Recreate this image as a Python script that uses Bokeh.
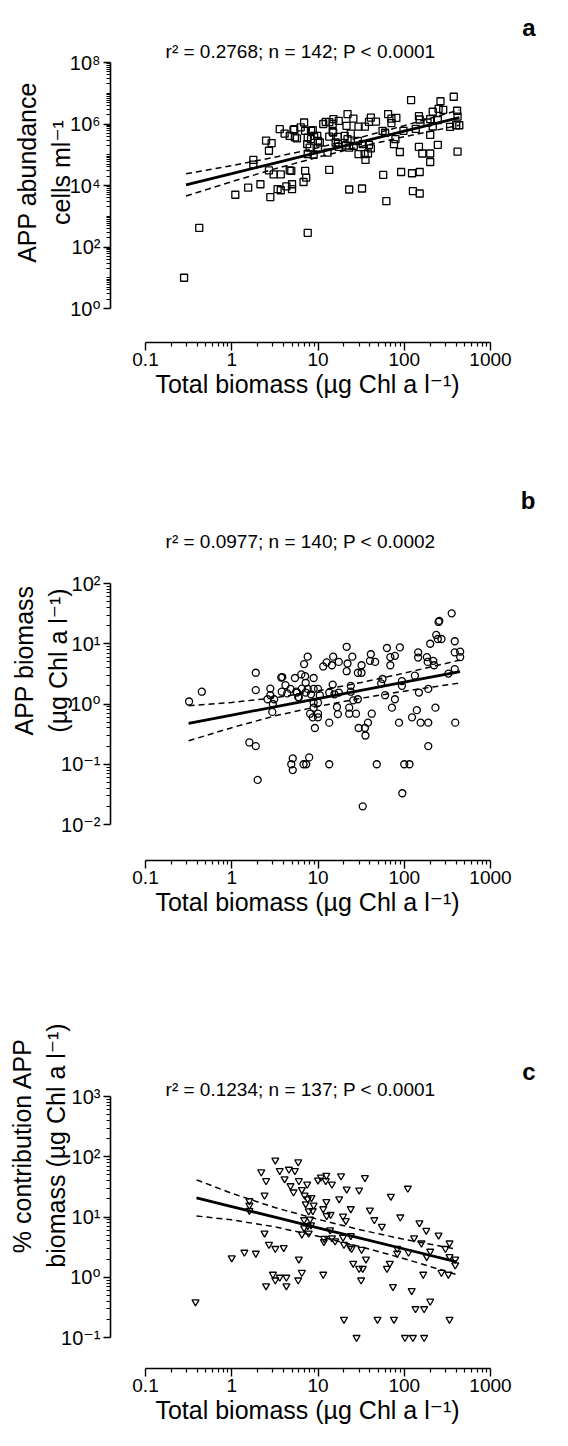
import math
from bokeh.plotting import figure
from bokeh.models import Range1d, FixedTicker, CustomJSTickFormatter, Label
from bokeh.layouts import column, row
from bokeh.embed import file_html
from bokeh.resources import INLINE

FONT = "Liberation Sans, Arial, DejaVu Sans"

# ---------------- data ----------------
# Panel a: APP abundance (cells ml-1) vs total biomass
A_X = [0.28, 0.42, 1.1, 1.55, 2.15, 1.78, 1.78, 2.8, 2.7, 2.5, 2.9, 2.7, 3.4, 3.7, 3.06, 3.7,
       4.3, 5.0, 5.0, 4.7, 3.6, 4.1, 4.7, 5.2, 5.7, 6.3, 6.9, 5.3, 7.1, 8.7, 7.6, 5.4, 9.8, 10.0,
       8.0, 10.0, 7.6, 8.9, 7.1, 7.3, 6.8, 4.9, 7.6, 8.3, 9.0, 11.5, 12.3, 13.5, 15.1, 17.4, 13.5,
       12.9, 21.4, 22.0, 23.0, 14.8, 14.8, 17.0, 13.5, 20.4, 26.0, 17.4, 25.7, 21.0, 24.0, 29.0,
       22.0, 33.0, 39.0, 41.0, 29.5, 34.7, 38.0, 35.5, 32.4, 35.0, 29.5, 41.0, 47.0, 39.0, 56.0,
       60.0, 65.0, 71.0, 81.0, 71.0, 79.0, 76.0, 89.0, 98.0, 120.0, 148.0, 151.0, 136.0, 200.0,
       186.0, 245.0, 214.0, 250.0, 283.0, 263.0, 375.0, 410.0, 415.0, 435.0, 340.0, 400.0, 214.0,
       200.0, 148.0, 245.0, 162.0, 200.0, 200.0, 415.0, 57.0, 92.0, 123.0, 151.0, 62.0, 126.0,
       151.0, 15.0, 16.0, 17.0, 23.0, 7.5, 8.3, 10.5]
A_Y = [10, 420, 5000, 8500, 11000, 68000, 48000, 4200, 31000, 290000, 240000, 135000, 7600, 7000,
       23000, 23000, 9300, 11000, 7600, 31000, 680000, 490000, 410000, 640000, 340000, 780000,
       1120000, 680000, 600000, 630000, 360000, 370000, 410000, 280000, 170000, 170000, 105000,
       100000, 30000, 18000, 13000, 30000, 290, 320000, 410000, 1000000, 1170000, 1150000,
       1450000, 1260000, 32000, 117000, 870000, 2100000, 7400, 1000000, 560000, 380000, 390000,
       410000, 195000, 180000, 1500000, 200000, 490000, 280000, 320000, 220000, 210000, 160000,
       105000, 105000, 110000, 68000, 8000, 820000, 820000, 1620000, 1200000, 1170000, 600000,
       520000, 2100000, 1500000, 1580000, 1070000, 320000, 220000, 123000, 600000, 6000000,
       1800000, 1400000, 690000, 1450000, 1120000, 1350000, 2500000, 3100000, 2900000, 5500000,
       7700000, 2700000, 1740000, 910000, 810000, 910000, 830000, 440000, 180000, 210000, 110000,
       110000, 58000, 126000, 22000, 27500, 25000, 27500, 3100, 6600, 5500, 525000, 250000,
       225000, 170000, 220000, 600000, 250000]

# Panel b: APP biomass (ug Chl a l-1) vs total biomass
B_X = [0.32, 0.45, 1.9, 1.9, 2.8, 2.8, 2.6, 3.1, 3.0, 2.95, 3.75, 3.85, 4.2, 4.8, 4.4, 3.8, 5.4,
       5.6, 5.9, 1.6, 1.9, 4.9, 5.1, 5.1, 6.8, 7.3, 7.9, 13.5, 355, 250, 255, 235, 270, 245, 200,
       385, 385, 445, 445, 385, 325, 390, 190, 230, 190, 155, 123, 140, 87, 148, 190, 133, 183,
       187, 217, 222, 145, 145, 94, 94, 89, 78, 69, 69, 63, 78, 72, 60, 56, 54, 41, 40, 46, 32,
       32, 29, 21.5, 25, 22, 21.5, 17.4, 15, 14.5, 12.6, 11.5, 7.6, 6.9, 6.4, 7.1, 8.9, 7.2, 6.5,
       7.6, 8.9, 10, 5.7, 7.2, 8.3, 10.5, 6.0, 8.9, 10, 8.9, 8.1, 10, 8.7, 10, 9.2, 13.5, 14.8,
       13.5, 15.5, 17.4, 16.6, 17, 23, 23, 27.6, 24, 24, 25.6, 29, 42, 38, 35, 29.6, 35.5, 2.0,
       33, 48, 95, 100, 115]
B_Y = [1.1, 1.6, 3.3, 1.7, 1.8, 1.4, 1.2, 1.2, 1.0, 0.74, 2.75, 2.8, 2.05, 1.78, 1.5, 1.6, 2.7,
       1.6, 1.3, 0.23, 0.2, 0.1, 0.125, 0.08, 0.1, 0.1, 0.13, 0.1, 32, 23, 24, 14, 12, 12, 10,
       11, 7.2, 7.4, 6.0, 3.8, 3.2, 0.49, 0.2, 0.87, 0.49, 0.49, 0.6, 0.79, 0.49, 1.55, 1.78,
       2.95, 6.0, 5.0, 5.2, 4.4, 7.2, 5.9, 2.4, 2.0, 8.7, 6.3, 6.0, 4.4, 8.5, 1.2, 0.87, 1.4,
       2.6, 2.2, 6.7, 5.2, 5.0, 4.4, 3.3, 3.3, 8.9, 6.1, 4.7, 3.5, 5.0, 6.1, 4.4, 4.9, 4.2, 6.1,
       4.6, 3.1, 2.9, 2.7, 2.25, 1.8, 1.78, 1.78, 1.78, 1.55, 1.55, 1.45, 1.4, 1.3, 1.05, 1.05,
       0.87, 0.69, 0.69, 0.6, 0.6, 0.4, 0.49, 2.1, 1.55, 1.45, 1.55, 0.89, 0.68, 0.87, 0.69,
       0.69, 2.0, 1.6, 1.15, 1.2, 0.69, 0.49, 0.4, 0.4, 0.3, 0.055, 0.02, 0.1, 0.033, 0.1, 0.1]

# Panel c: % contribution APP biomass vs total biomass
C_X = [0.38, 1.0, 1.4, 1.9, 2.4, 2.7, 3.2, 4.0, 3.0, 3.2, 3.6, 4.3, 4.3, 2.5, 5.9, 6.0, 6.5,
       3.2, 2.2, 2.5, 2.4, 3.6, 4.1, 4.6, 5.4, 5.9, 4.8, 5.2, 6.0, 7.5, 6.5, 7.0, 8.4, 7.6, 7.2,
       8.9, 8.7, 7.8, 10, 10.8, 12.5, 12.3, 14.5, 18.5, 21.5, 17.6, 12.5, 11.5, 12.6, 14, 24,
       19.5, 21, 13.8, 11.8, 14.5, 19.5, 24, 23.5, 6.9, 6.9, 7.6, 8.3, 8.1, 6.5, 7.8, 1.6, 1.6,
       1.6, 11.5, 11.7, 15.8, 20, 20, 24.5, 25.6, 28, 30, 31.6, 33, 32, 36, 49, 63, 68, 74, 76,
       83, 83, 112, 122, 102, 126, 135, 170, 170, 166, 158, 182, 200, 200, 270, 335, 325, 335,
       335, 390, 390, 30, 35, 40, 45, 55, 70, 90, 110, 130, 150, 180, 250, 300]
C_Y = [0.39, 2.1, 2.6, 2.5, 5.4, 3.5, 3.0, 3.1, 1.12, 0.9, 1.0, 1.0, 0.72, 0.72, 0.9, 2.0, 1.2,
       88, 56, 40, 23, 59, 43, 62, 59, 82, 33, 26, 40, 35, 28.5, 23, 21, 20, 16.5, 15.7, 12.7,
       12.6, 41, 46, 49, 40, 35, 48, 29, 20, 18, 13.7, 10.5, 11, 13.7, 10.3, 8.7, 6.1, 4.4, 4.5,
       4.6, 4.9, 3.2, 9.0, 6.6, 7.2, 7.4, 9.2, 5.2, 5.4, 18.6, 15.7, 12.9, 1.12, 3.9, 4.0, 3.5,
       0.2, 3.0, 1.7, 0.1, 1.4, 0.9, 1.4, 2.9, 2.0, 0.2, 1.4, 1.7, 0.7, 0.2, 3.0, 2.5, 2.6, 0.6,
       0.1, 0.1, 0.3, 0.1, 0.3, 1.12, 3.7, 2.2, 2.7, 0.4, 1.2, 3.7, 1.12, 2.2, 0.2, 2.0, 1.6,
       28, 45, 13, 9, 7, 22, 10, 30, 4.5, 8, 6, 5, 3]

# regression lines and 95% confidence bands
A_FIT_X = [0.295, 1, 3.16, 10, 31.6, 100, 436]
A_FIT_Y = [10470, 24320, 53830, 119100, 263600, 583400, 1614000]
A_FIT_HI = [23990, 44260, 83370, 170200, 372400, 883100, 2871000]
A_FIT_LO = [4571, 13370, 34750, 83370, 186600, 385500, 907800]

B_FIT_X = [0.316, 1, 3.16, 10, 31.6, 100, 443]
B_FIT_Y = [0.4786, 0.6554, 0.8974, 1.229, 1.683, 2.304, 3.458]
B_FIT_HI = [0.9333, 1.063, 1.268, 1.658, 2.270, 3.254, 5.356]
B_FIT_LO = [0.2455, 0.4043, 0.6353, 0.9110, 1.247, 1.631, 2.233]

C_FIT_X = [0.39, 1, 3.16, 10, 31.6, 100, 395]
C_FIT_Y = [20.75, 14.89, 9.924, 6.617, 4.413, 2.942, 1.815]
C_FIT_HI = [41.4, 24.71, 14.35, 9.135, 6.092, 4.253, 2.944]
C_FIT_LO = [10.4, 8.97, 6.866, 4.795, 3.197, 2.035, 1.119]

ANNOT = ["r\u00b2 = 0.2768; n = 142; P < 0.0001",
         "r\u00b2 = 0.0977; n = 140; P < 0.0002",
         "r\u00b2 = 0.1234; n = 137; P < 0.0001"]
LETTERS = ["a", "b", "c"]
Y_TITLES = ["APP abundance\ncells ml\u207b\u00b9",
            "APP biomass\n(\u00b5g Chl a l\u207b\u00b9)",
            "% contribution APP\nbiomass (\u00b5g Chl a l\u207b\u00b9)"]
X_TITLE = "Total biomass (\u00b5g Chl a l\u207b\u00b9)"

X_MAJOR = [0.1, 1, 10, 100, 1000]

# ---------------- layout (page pixels) ----------------
W = 514                     # main figure width
WL = 38                     # letter strip width
FRAME_L, FRAME_R = 110, 504            # canvas px (page 118 / 512)
X_TICK_PX = (153 - 8, 498 - 8)         # canvas px of 0.1 and 1000
PPD_X = (X_TICK_PX[1] - X_TICK_PX[0]) / 4.0

# fig_top, fig_h, frame_top, frame_bot, top tick page y, bottom tick page y, top dec, bottom dec
GEOM = [
    (8, 457, 10, 350, 70, 316, 8, 0),
    (465, 465, 468, 868, 591, 832, 2, -2),
    (930, 508, 930, 1376, 1104, 1345, 3, -1),
]
LETTER_POS = [(543, 42), (543, 511), (543, 1100)]
ANNOT_POS = [(308, 59), (308, 549), (308, 1097)]
Y_STANDOFF = [-8, -14, -12]

SUP = {"-": "\u207b", "0": "\u2070", "1": "\u00b9", "2": "\u00b2", "3": "\u00b3",
       "4": "\u2074", "5": "\u2075", "6": "\u2076", "7": "\u2077", "8": "\u2078", "9": "\u2079"}
Y_FMT_CODE = """
const m = %s;
const e = Math.round(Math.log10(tick));
return "10" + String(e).split("").map(c => m[c]).join("");
""" % ("{" + ", ".join('"%s": "%s"' % (k, v) for k, v in SUP.items()) + "}")
X_FMT_CODE = """
const e = Math.round(Math.log10(tick));
return e < 0 ? "0." + "0".repeat(-e - 1) + "1" : "1" + "0".repeat(e);
"""


def minor_ticks(d_lo, d_hi):
    out = []
    for d in range(d_lo, d_hi):
        for k in range(2, 10):
            out.append(k * 10.0 ** d)
    return out


def make_panel(i, xs, ys, marker, fx, fy, fhi, flo):
    fig_top, fig_h, f_top, f_bot, t_top, t_bot, d_top, d_bot = GEOM[i]
    ppd_y = (t_bot - t_top) / float(d_top - d_bot)
    y0 = 10 ** (d_bot - (f_bot - t_bot) / ppd_y)
    y1 = 10 ** (d_top + (t_top - f_top) / ppd_y)
    x0 = 10 ** (-1 - (X_TICK_PX[0] - FRAME_L) / PPD_X)
    x1 = 10 ** (3 + (FRAME_R - X_TICK_PX[1]) / PPD_X)

    p = figure(width=W, height=fig_h, x_axis_type="log", y_axis_type="log",
               x_range=Range1d(x0, x1), y_range=Range1d(y0, y1),
               output_backend="svg", toolbar_location=None, title=None,
               min_border_left=FRAME_L, min_border_right=W - FRAME_R,
               min_border_top=f_top - fig_top, min_border_bottom=fig_top + fig_h - f_bot)
    p.outline_line_color = None
    p.xgrid.visible = False
    p.ygrid.visible = False
    p.background_fill_color = "white"
    p.border_fill_color = "white"

    def px2x(page_x):
        return 10 ** (-1 + (page_x - 8 - X_TICK_PX[0]) / PPD_X)

    def py2y(page_y):
        return 10 ** (d_bot + (t_bot - page_y) / ppd_y)

    # x axis
    xa = p.xaxis[0]
    xa.bounds = (0.1, 1000)
    xa.ticker = FixedTicker(ticks=X_MAJOR, minor_ticks=minor_ticks(-1, 3))
    xa.formatter = CustomJSTickFormatter(code=X_FMT_CODE)
    xa.axis_label = X_TITLE
    # y axis
    ya = p.yaxis[0]
    ya.bounds = (10.0 ** d_bot, 10.0 ** d_top)
    if d_top - d_bot > 4:
        majors = [10.0 ** d for d in range(d_bot, d_top + 1, 2)]
        minors = minor_ticks(d_bot, d_top) + [10.0 ** d for d in range(d_bot + 1, d_top, 2)]
    else:
        majors = [10.0 ** d for d in range(d_bot, d_top + 1)]
        minors = minor_ticks(d_bot, d_top)
    ya.ticker = FixedTicker(ticks=majors, minor_ticks=minors)
    ya.formatter = CustomJSTickFormatter(code=Y_FMT_CODE)
    ya.axis_label = Y_TITLES[i]

    for ax in (xa, ya):
        ax.axis_line_color = "black"
        ax.axis_line_width = 1.6
        ax.major_tick_line_color = "black"
        ax.minor_tick_line_color = "black"
        ax.major_tick_line_width = 1.4
        ax.minor_tick_line_width = 1.2
        ax.major_tick_in = 0
        ax.minor_tick_in = 0
        ax.major_label_text_font = FONT
        ax.major_label_text_color = "black"
        ax.axis_label_text_font = FONT
        ax.axis_label_text_font_size = "25px"
        ax.axis_label_text_font_style = "normal"
        ax.axis_label_text_color = "black"
    xa.major_label_text_font_size = "19px"
    ya.major_label_text_font_size = "20px"
    xa.major_tick_out = 8
    xa.minor_tick_out = 4
    xa.major_label_standoff = 2
    xa.axis_label_standoff = 1
    ya.major_tick_out = 7
    ya.minor_tick_out = 4
    ya.major_label_standoff = 3
    ya.axis_label_standoff = Y_STANDOFF[i]
    ya.axis_label_text_line_height = 1.2

    # regression + confidence band
    p.line(fx, fhi, line_color="black", line_width=1.5, line_dash="6 4")
    p.line(fx, flo, line_color="black", line_width=1.5, line_dash="6 4")
    p.line(fx, fy, line_color="black", line_width=2.8)

    # points
    p.scatter(xs, ys, marker=marker, size=7, fill_color=None,
              line_color="black", line_width=1.3)

    ax_, ay_ = ANNOT_POS[i]
    p.add_layout(Label(x=px2x(ax_), y=py2y(ay_), text=ANNOT[i], text_font=FONT,
                       text_font_size="19px", text_color="black",
                       text_align="center", text_baseline="middle"))

    # letter strip on the right (no axes: frame == whole strip)
    q = figure(width=WL, height=fig_h, x_range=Range1d(0, WL), y_range=Range1d(0, fig_h),
               x_axis_location=None, y_axis_location=None,
               output_backend="svg", toolbar_location=None, title=None,
               min_border=0, min_border_left=0, min_border_right=0,
               min_border_top=0, min_border_bottom=0)
    q.grid.visible = False
    q.outline_line_color = None
    q.background_fill_color = "white"
    q.border_fill_color = "white"
    lx, ly = LETTER_POS[i]
    q.add_layout(Label(x=lx - 8 - W, y=fig_h - (ly - fig_top), text=LETTERS[i],
                       text_font=FONT, text_font_size="24px", text_font_style="bold",
                       text_color="black", text_align="right", text_baseline="middle"))
    return row(p, q, spacing=0)


pa = make_panel(0, A_X, A_Y, "square", A_FIT_X, A_FIT_Y, A_FIT_HI, A_FIT_LO)
pb = make_panel(1, B_X, B_Y, "circle", B_FIT_X, B_FIT_Y, B_FIT_HI, B_FIT_LO)
pc = make_panel(2, C_X, C_Y, "inverted_triangle", C_FIT_X, C_FIT_Y, C_FIT_HI, C_FIT_LO)

layout = column(pa, pb, pc, spacing=0)
open("out.html", "w").write(file_html(layout, INLINE))
